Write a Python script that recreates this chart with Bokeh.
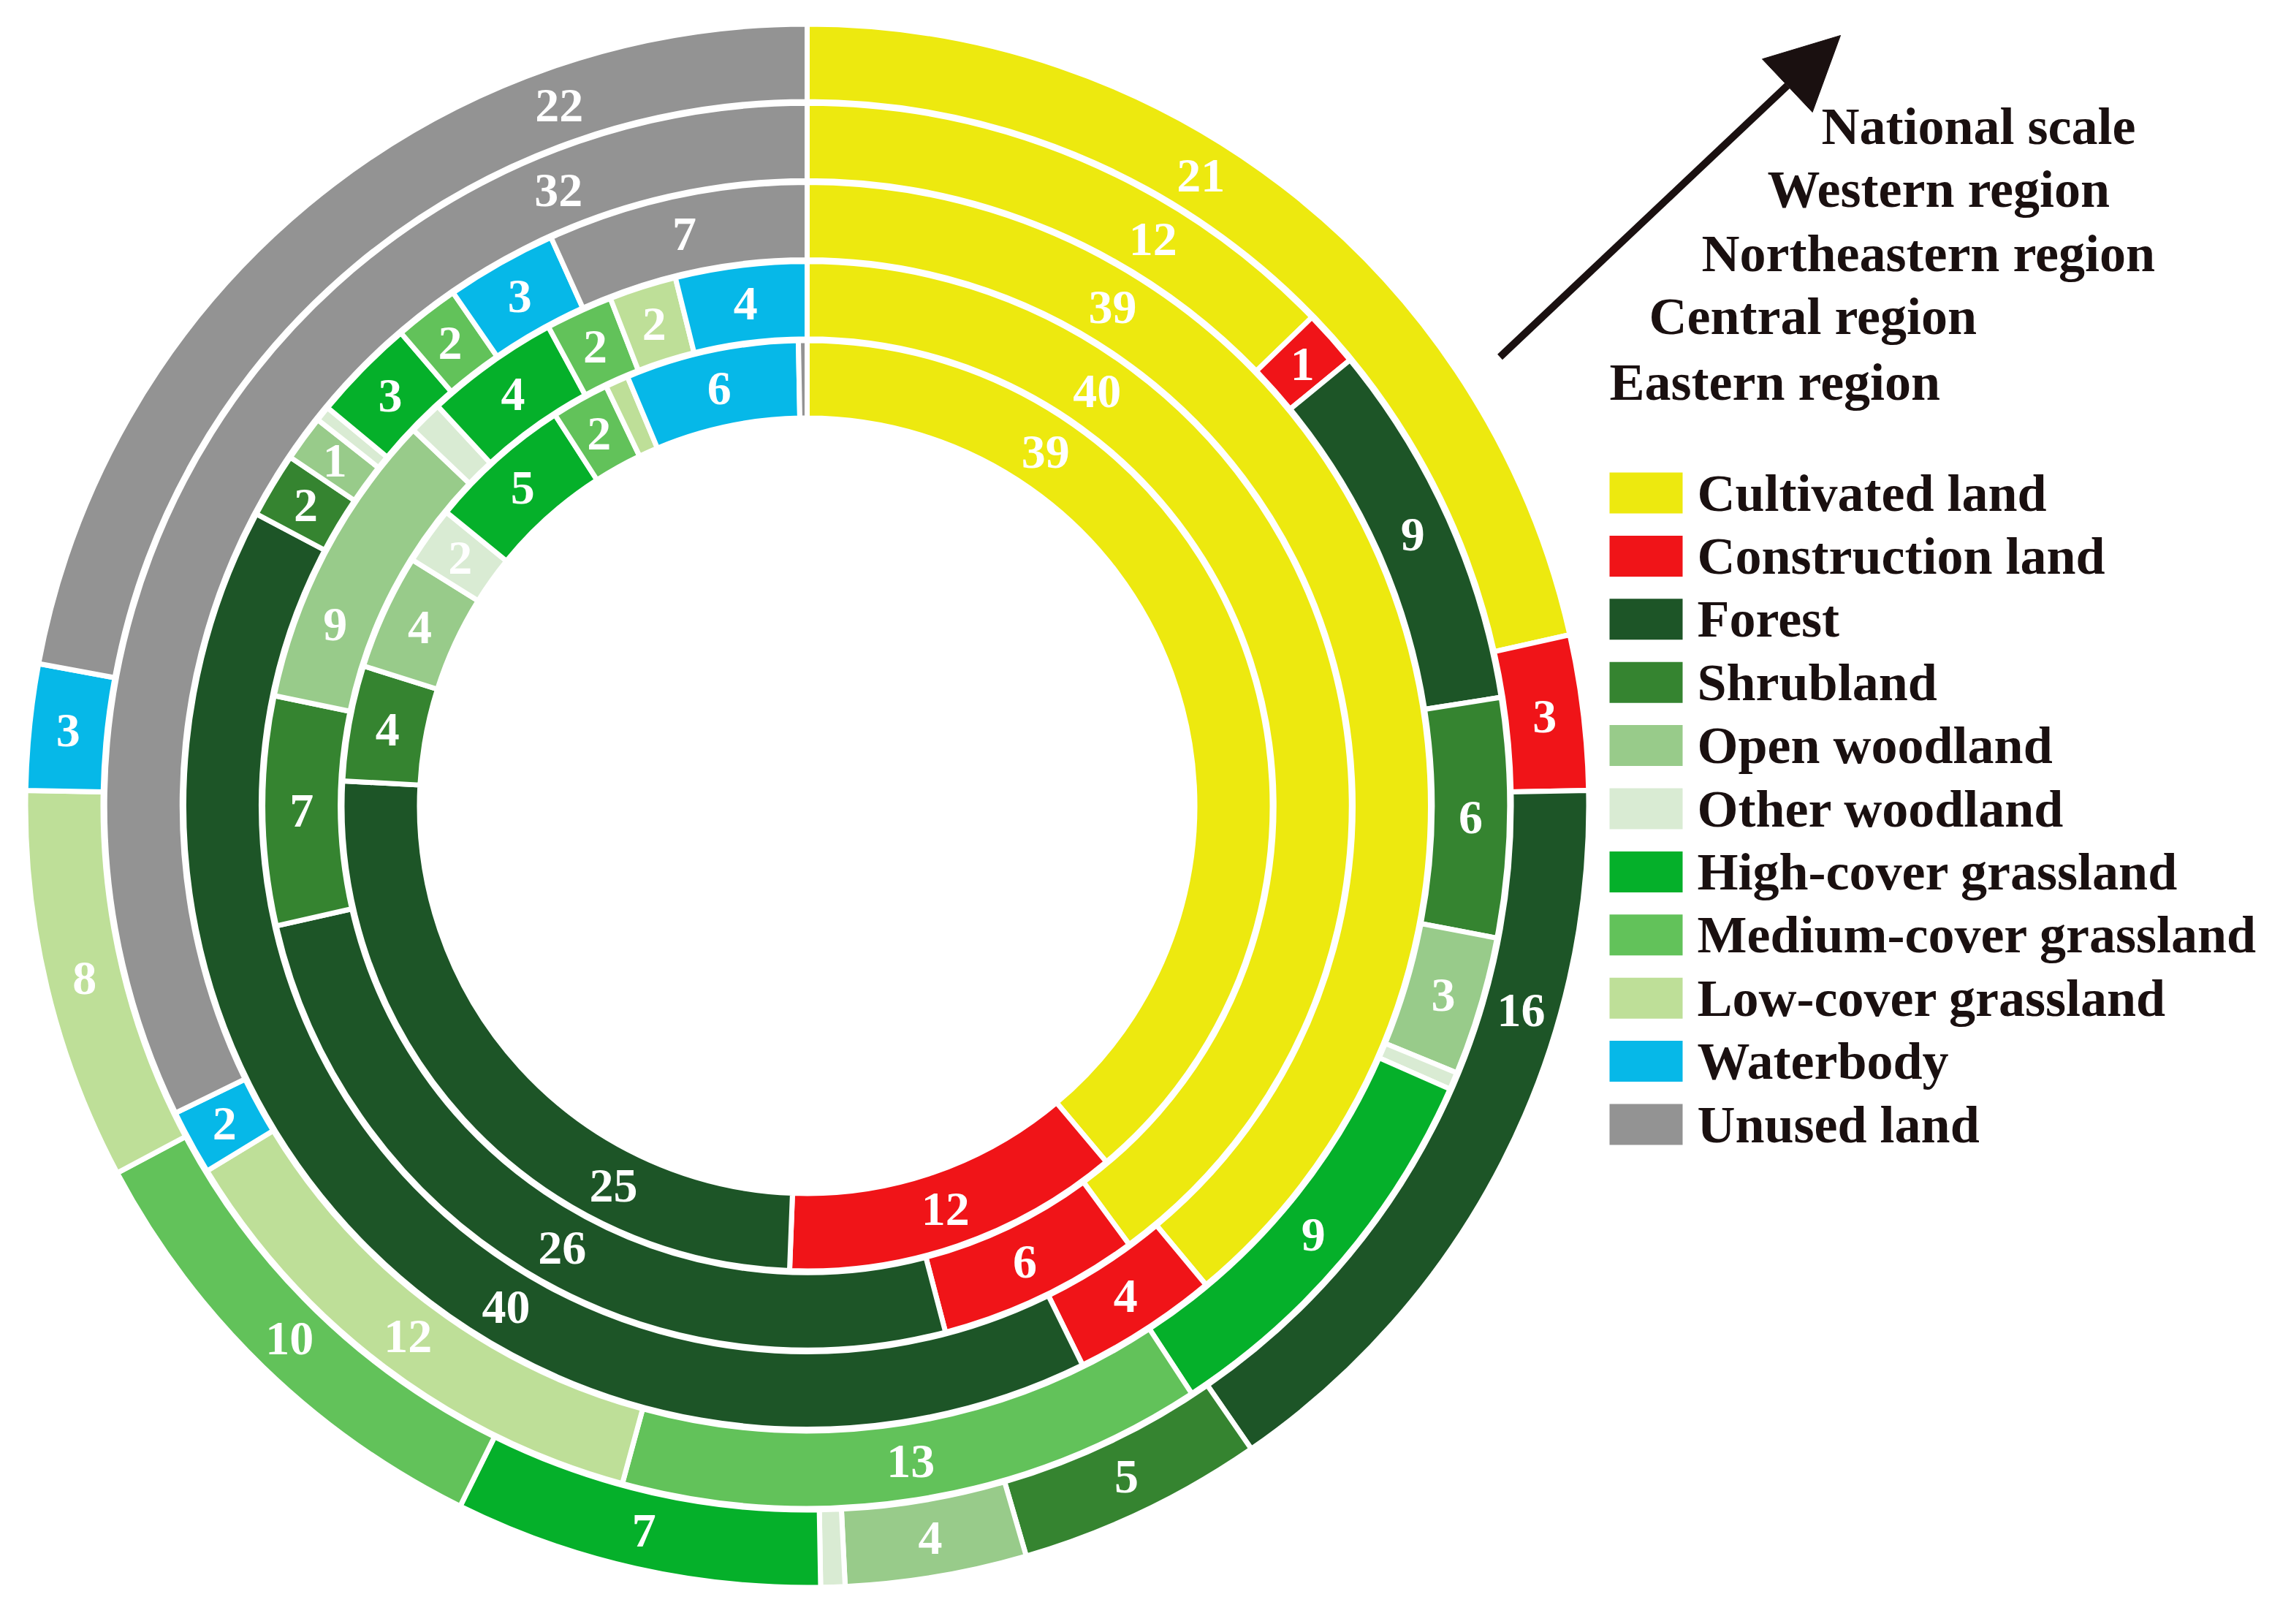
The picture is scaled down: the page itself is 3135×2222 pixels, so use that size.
import math
from bokeh.plotting import figure
from bokeh.models import Range1d, Arrow, NormalHead, ColumnDataSource
from bokeh.embed import file_html
from bokeh.resources import INLINE
from bokeh.core.properties import value

# ---------------- data ----------------
categories = ["Cultivated land", "Construction land", "Forest", "Shrubland",
              "Open woodland", "Other woodland", "High-cover grassland",
              "Medium-cover grassland", "Low-cover grassland", "Waterbody",
              "Unused land"]
colors = ["#EDE90F", "#F01418", "#1D5527", "#358430", "#98CB8A", "#D9EBD3",
          "#05B02A", "#62C25A", "#BEDF98", "#06B8E8", "#939393"]

# rings from inner to outer
regions = ["Eastern region", "Central region", "Northeastern region",
           "Western region", "National scale"]

eastern = [38.8, 11.7, 25.2, 4.0, 4.0, 2.0, 5.0, 2.0, 0.8, 6.0, 0.3]
central = [40.0, 6.0, 25.6, 6.8, 8.9, 1.0, 4.0, 2.0, 2.0, 3.9, 0.0]
northeastern = [39.3, 3.8, 40.4, 1.7, 1.2, 0.4, 2.7, 1.7, 0.0, 2.9, 6.8]
western = [12.8, 1.3, 8.5, 5.5, 3.2, 0.4, 9.2, 13.5, 12.1, 1.5, 32.3]
national = [21.5, 3.2, 15.7, 5.1, 3.75, 0.5, 7.6, 9.9, 8.1, 2.6, 22.1]

eastern_labels = ["39", "12", "25", "4", "4", "2", "5", "2", "", "6", ""]
central_labels = ["40", "6", "26", "7", "9", "", "4", "2", "2", "4", ""]
northeastern_labels = ["39", "4", "40", "2", "1", "", "3", "2", "", "3", "7"]
western_labels = ["12", "1", "9", "6", "3", "", "9", "13", "12", "2", "32"]
national_labels = ["21", "3", "16", "5", "4", "", "7", "10", "8", "3", "22"]

ring_values = [eastern, central, northeastern, western, national]
ring_labels = [eastern_labels, central_labels, northeastern_labels,
               western_labels, national_labels]

# ---------------- layout (reference pixel space) ----------------
W, H = 3135, 2222
CX, CY_REF = 1112, 1110
CY = H - CY_REF
R_IN = 534
THICK = 99
GAP = 9.25
SEP = 7

# label angles (deg clockwise from top) where labels are not at segment middle
label_angle_override = {
    (0, 0): 34, (1, 0): 35, (2, 0): 31.5, (3, 0): 31.4, (4, 0): 32,
    (0, 2): 207, (1, 2): 209, (2, 2): 211, (4, 2): 106,
    (1, 4): 291, (3, 10): 338, (4, 10): 340.5,
}

TXT = "#1A1010"
FONT = value("Liberation Serif")

p = figure(width=W - 16, height=H - 16,
           x_range=Range1d(8, W - 8), y_range=Range1d(8, H - 8),
           x_axis_location=None, y_axis_location=None,
           toolbar_location=None, min_border=0, outline_line_color=None,
           output_backend="svg", background_fill_color="white")
p.xgrid.visible = False
p.ygrid.visible = False

lab_x, lab_y, lab_t = [], [], []
for ri, (vals, labs) in enumerate(zip(ring_values, ring_labels)):
    a = R_IN + ri * (THICK + GAP)
    b = a + THICK
    total = sum(vals)
    cum = 0.0
    starts, ends, cols = [], [], []
    for ci, v in enumerate(vals):
        if v <= 0:
            continue
        t1 = cum / total * 360.0
        cum += v
        t2 = cum / total * 360.0
        starts.append(math.radians(90.0 - t2))
        ends.append(math.radians(90.0 - t1))
        cols.append(colors[ci])
        if labs[ci]:
            th = label_angle_override.get((ri, ci), (t1 + t2) / 2.0)
            rm = (a + b) / 2.0
            lab_x.append(CX + rm * math.sin(math.radians(th)))
            lab_y.append(CY + rm * math.cos(math.radians(th)))
            lab_t.append(labs[ci])
    src = ColumnDataSource(dict(s=starts, e=ends, c=cols))
    p.annular_wedge(x=CX, y=CY, inner_radius=a - SEP / 2, outer_radius=b + SEP / 2,
                    start_angle="s", end_angle="e", fill_color="c",
                    line_color="white", line_width=SEP, source=src)

p.text(x=lab_x, y=lab_y, text=lab_t, text_color="white",
       text_font=FONT, text_font_style="bold", text_font_size="66px",
       text_align="center", text_baseline="middle")

# ---------------- region arrow + labels ----------------
p.add_layout(Arrow(end=NormalHead(size=100, fill_color=TXT, line_color=TXT),
                   x_start=2060, y_start=H - 496, x_end=2526, y_end=H - 56,
                   line_width=10, line_color=TXT))
region_x = [2210, 2264, 2336, 2426, 2500]
region_y = [530, 440, 354, 266, 180]
p.text(x=region_x, y=[H - y for y in region_y], text=regions, text_color=TXT,
       text_font=FONT, text_font_style="bold", text_font_size="72px",
       text_align="left", text_baseline="middle")

# ---------------- legend ----------------
leg_y = [H - (682 + k * 86.4) for k in range(len(categories))]
p.rect(x=[2260] * len(categories), y=leg_y, width=100, height=56,
       fill_color=colors, line_color=None)
p.text(x=[2330] * len(categories), y=leg_y, text=categories, text_color=TXT,
       text_font=FONT, text_font_style="bold", text_font_size="72px",
       text_align="left", text_baseline="middle")

open("out.html", "w").write(file_html(p, INLINE))
